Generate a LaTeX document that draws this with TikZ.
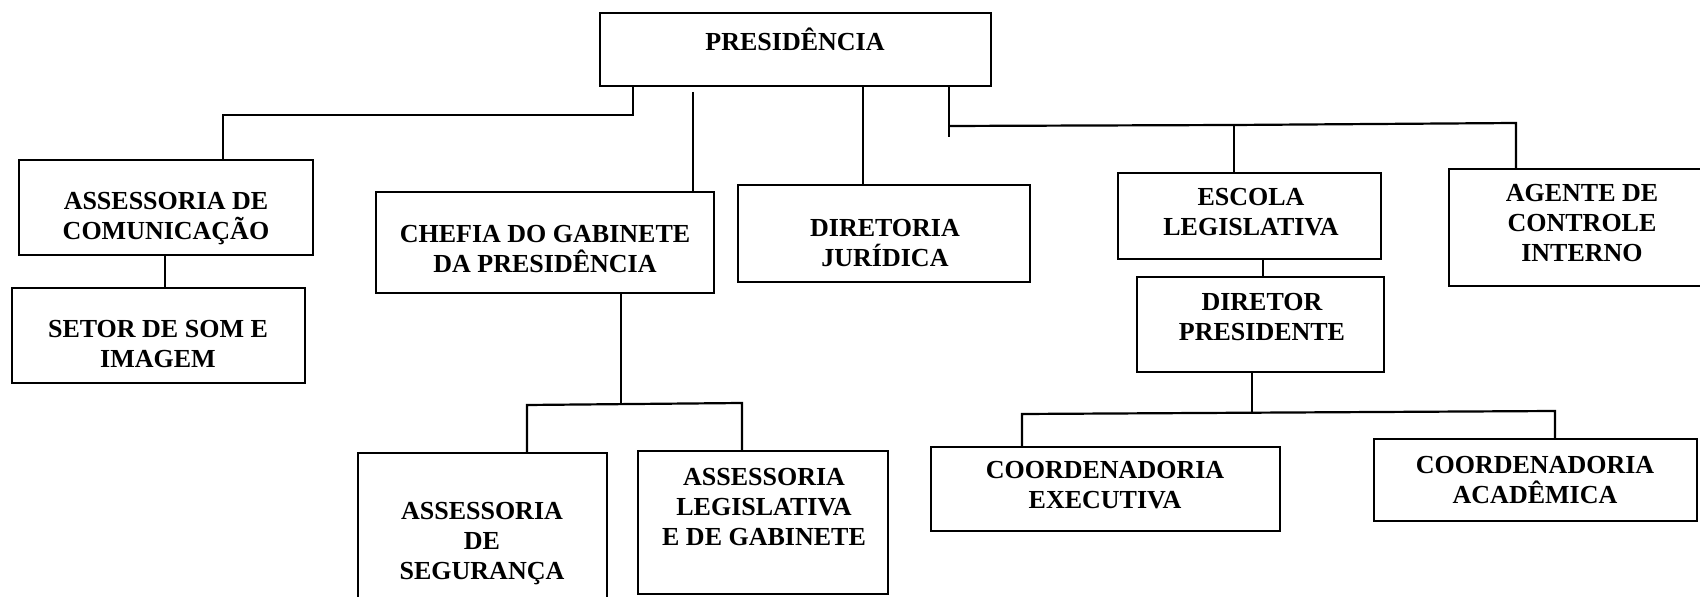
\documentclass[tikz,border=0pt]{standalone}
\usepackage{fontspec}
\setmainfont{Liberation Serif}
\usetikzlibrary{fit}
\begin{document}
\begin{tikzpicture}[x=0.5pt,y=-0.5pt,
  box/.style={draw, line width=1.1pt, rectangle, inner sep=0pt},
  lbl/.style={font=\fontsize{13}{15}\selectfont\bfseries, align=center, inner sep=0pt,
    execute at begin node=\strut, execute at end node=\strut},
  link/.style={line width=1.1pt}]
\useasboundingbox (0,0) rectangle (1700,597);
\fill[white] (0,0) rectangle (1700,597);
% boxes
\node[box, fit={(600,13) (991,86)}] (pres) {};
\node[box, fit={(19,160) (313,255)}] (assess) {};
\node[box, fit={(12,288) (305,383)}] (setor) {};
\node[box, fit={(376,192) (714,293)}] (chefia) {};
\node[box, fit={(738,185) (1030,282)}] (dir) {};
\node[box, fit={(1118,173) (1381,259)}] (escola) {};
\node[box, fit={(1449,169) (1716,286)}] (agente) {};
\node[box, fit={(1137,277) (1384,372)}] (diretor) {};
\node[box, fit={(358,453) (607,612)}] (seg) {};
\node[box, fit={(638,451) (888,594)}] (leg) {};
\node[box, fit={(931,447) (1280,531)}] (exec) {};
\node[box, fit={(1374,439) (1697,521)}] (acad) {};
% texts
\node[lbl] (presT) at (795,43.6) {PRESIDÊNCIA};
\node[lbl] (assessT) at (166,220) {ASSESSORIA DE\\COMUNICAÇÃO};
\node[lbl] (setorT) at (158,348.6) {SETOR DE SOM E\\IMAGEM};
\node[lbl] (chefiaT) at (545,253.6) {CHEFIA DO GABINETE\\DA PRESIDÊNCIA};
\node[lbl] (dirT) at (885,247.6) {DIRETORIA\\JURÍDICA};
\node[lbl] (escolaT) at (1251,216.6) {ESCOLA\\LEGISLATIVA};
\node[lbl] (agenteT) at (1582,227.6) {AGENTE DE\\CONTROLE\\INTERNO};
\node[lbl] (diretorT) at (1262,321.6) {DIRETOR\\PRESIDENTE};
\node[lbl] (segT) at (482,545.6) {ASSESSORIA\\DE\\SEGURANÇA};
\node[lbl] (legT) at (764,511.6) {ASSESSORIA\\LEGISLATIVA\\E DE GABINETE};
\node[lbl] (execT) at (1105,489.6) {COORDENADORIA\\EXECUTIVA};
\node[lbl] (acadT) at (1535,484.6) {COORDENADORIA\\ACADÊMICA};
% junction coordinates
\coordinate (j1) at (633,115);
\coordinate (j2) at (223,115);
\coordinate (c1) at (693,92);
\coordinate (d1) at (863,0);
\coordinate (e1) at (949,126);
\coordinate (e2) at (949,137);
\coordinate (e3) at (1234,125);
\coordinate (e4) at (1516,123);
\coordinate (f1) at (165,0);
\coordinate (g1) at (621,404);
\coordinate (g2) at (527,405);
\coordinate (g3) at (742,403);
\coordinate (h1) at (1263,0);
\coordinate (k1) at (1252,413);
\coordinate (k2) at (1022,414);
\coordinate (k3) at (1555,411);
% connectors
\draw[link] (pres.south -| j1) -- (j1) -- (j2) -- (assess.north -| j2);
\draw[link] (c1) -- (chefia.north -| c1);
\draw[link] (pres.south -| d1) -- (dir.north -| d1);
\draw[link] (pres.south -| e1) -- (e2);
\draw[link] (e1) -- (e3) -- (e4) -- (agente.north -| e4);
\draw[link] (e3) -- (escola.north -| e3);
\draw[link] (assess.south -| f1) -- (setor.north -| f1);
\draw[link] (chefia.south -| g1) -- (g1);
\draw[link] (seg.north -| g2) -- (g2) -- (g3) -- (leg.north -| g3);
\draw[link] (escola.south -| h1) -- (diretor.north -| h1);
\draw[link] (diretor.south -| k1) -- (k1);
\draw[link] (exec.north -| k2) -- (k2) -- (k3) -- (acad.north -| k3);
\end{tikzpicture}
\end{document}
